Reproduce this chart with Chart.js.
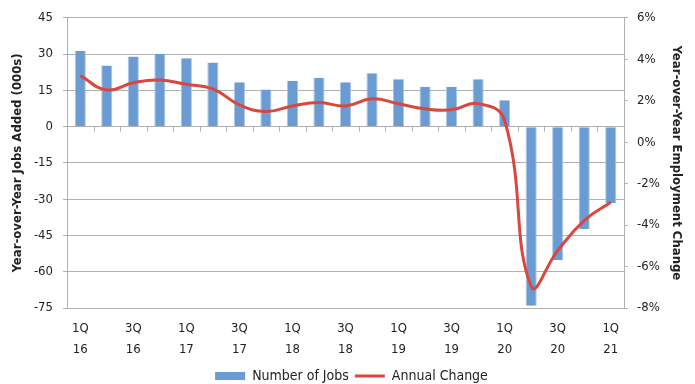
<!DOCTYPE html>
<html>
<head>
<meta charset="utf-8">
<script src="https://cdn.jsdelivr.net/npm/chart.js@4/dist/chart.umd.min.js"></script>
<style>
  html, body { margin: 0; padding: 0; background: #ffffff; }
  #wrap { width: 695px; height: 384px; position: relative; }
</style>
</head>
<body>
<div id="wrap"><canvas id="chart" width="695" height="384"></canvas></div>
<script>
// Quarter labels (quarter, two-digit year)
const quarters = ['1Q','2Q','3Q','4Q','1Q','2Q','3Q','4Q','1Q','2Q','3Q','4Q','1Q','2Q','3Q','4Q','1Q','2Q','3Q','4Q','1Q'];
const years    = ['16','16','16','16','17','17','17','17','18','18','18','18','19','19','19','19','20','20','20','20','21'];

// Year-over-year jobs added (thousands)
const jobsAdded = [31.4, 25.3, 29.0, 30.1, 28.3, 26.5, 18.3, 15.3, 19.0, 20.2, 18.4,
                   22.1, 19.6, 16.5, 16.5, 19.6, 10.9, -74.1, -55.3, -42.3, -31.6];

// Year-over-year employment change (%)
const annualChange = [3.21, 2.52, 2.87, 3.00, 2.79, 2.57, 1.80, 1.48, 1.75, 1.91, 1.75,
                      2.09, 1.85, 1.61, 1.56, 1.86, 1.05, -6.95, -5.23, -3.78, -2.90];

// Axis ticks
const jobsTicks = { min: -75, max: 45, step: 15 };
const pctTicks  = { min: -8, max: 6, step: 2 };

const seriesNames = ['Number of Jobs', 'Annual Change'];

const FONT = "'Liberation Sans Narrow', 'DejaVu Sans Condensed', 'Arial Narrow', sans-serif";
const TEXT = '#222222';
const GRID = '#b0b0b0';

// Small tick marks along the zero line, at the boundaries between quarters
const zeroLineTicks = {
  id: 'zeroLineTicks',
  afterDatasetsDraw(chart) {
    const x = chart.scales.x, y = chart.scales.y;
    const y0 = y.getPixelForValue(0);
    const ctx = chart.ctx;
    ctx.save();
    ctx.strokeStyle = GRID;
    ctx.lineWidth = 1;
    ctx.beginPath();
    for (let i = 0; i <= quarters.length; i++) {
      const px = Math.round(x.getPixelForValue(i - 0.5)) + 0.5;
      ctx.moveTo(px, y0);
      ctx.lineTo(px, y0 + 5);
    }
    ctx.stroke();
    ctx.restore();
  }
};

new Chart(document.getElementById('chart'), {
  data: {
    labels: quarters.map((q, i) => [q, years[i]]),
    datasets: [
      {
        type: 'bar',
        label: seriesNames[0],
        data: jobsAdded,
        yAxisID: 'y',
        backgroundColor: '#6b9bd3',
        borderColor: '#a9c5e8',
        borderWidth: { left: 1, right: 1, top: 0, bottom: 0 },
        barPercentage: 0.42,
        categoryPercentage: 1.0,
        order: 2
      },
      {
        type: 'line',
        label: seriesNames[1],
        data: annualChange,
        yAxisID: 'y1',
        borderColor: '#d9473f',
        backgroundColor: '#d9473f',
        borderWidth: 3,
        pointRadius: 0,
        tension: 0.45,
        order: 1
      }
    ]
  },
  options: {
    responsive: false,
    animation: false,
    devicePixelRatio: 1,
    layout: { padding: { top: 16, left: 8, right: 0, bottom: -9 } },
    plugins: {
      tooltip: { enabled: false },
      legend: {
        position: 'bottom',
        labels: {
          color: TEXT,
          font: { family: FONT, size: 14 },
          usePointStyle: true,
          pointStyleWidth: 30,
          boxHeight: 8,
          padding: 6,
          sort: (a, b) => a.datasetIndex - b.datasetIndex,
          generateLabels(chart) {
            return chart.data.datasets.map((ds, i) => ({
              text: ds.label,
              datasetIndex: i,
              fillStyle: ds.backgroundColor,
              strokeStyle: ds.type === 'line' ? ds.borderColor : ds.backgroundColor,
              lineWidth: ds.type === 'line' ? 3 : 0,
              pointStyle: ds.type === 'line' ? 'line' : 'rect',
              fontColor: TEXT,
              hidden: false
            }));
          }
        }
      }
    },
    scales: {
      x: {
        type: 'category',
        grid: { display: false, drawTicks: false },
        border: { display: false },
        ticks: {
          color: TEXT,
          font: { family: FONT, size: 13, lineHeight: 1.6 },
          padding: 10,
          maxRotation: 0,
          autoSkip: false,
          callback(value, index) {
            return index % 2 === 0 ? [quarters[index], years[index]] : '';
          }
        },
        afterFit(scale) { scale.height = 55; }
      },
      y: {
        position: 'left',
        min: jobsTicks.min,
        max: jobsTicks.max,
        grid: { color: GRID, lineWidth: 1, tickLength: 4 },
        border: { display: true, color: GRID, width: 1 },
        ticks: {
          stepSize: jobsTicks.step,
          color: TEXT,
          font: { family: FONT, size: 13 },
          padding: 10
        },
        title: {
          display: true,
          text: 'Year-over-Year Jobs Added (000s)',
          color: TEXT,
          font: { family: FONT, size: 13, weight: 'bold' },
          padding: { top: 2, bottom: 0 }
        },
        afterFit(scale) { scale.width = 59; }
      },
      y1: {
        position: 'right',
        min: pctTicks.min,
        max: pctTicks.max,
        grid: { drawOnChartArea: false, color: GRID, lineWidth: 1, tickLength: 4 },
        border: { display: true, color: GRID, width: 1 },
        ticks: {
          stepSize: pctTicks.step,
          color: TEXT,
          font: { family: FONT, size: 13 },
          padding: 9,
          callback: v => v + '%'
        },
        title: {
          display: true,
          text: 'Year-over-Year Employment Change',
          color: TEXT,
          font: { family: FONT, size: 13, weight: 'bold' },
          padding: { top: 11, bottom: 0 }
        },
        afterFit(scale) { scale.width = 71; }
      }
    }
  },
  plugins: [zeroLineTicks]
});
</script>
</body>
</html>
